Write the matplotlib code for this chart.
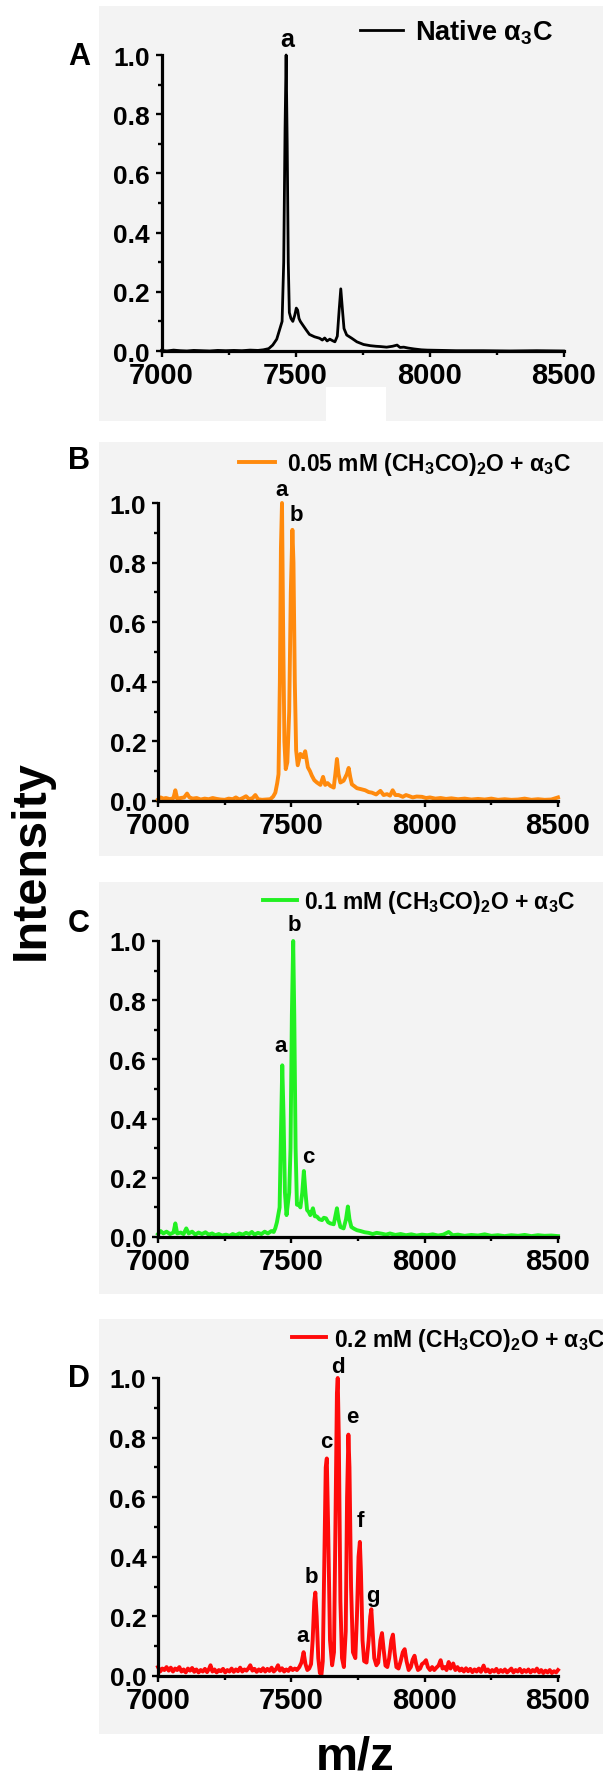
import matplotlib
matplotlib.use("Agg")
import matplotlib.pyplot as plt
import numpy as np
from matplotlib.patches import Rectangle
from matplotlib.ticker import MultipleLocator, FormatStrFormatter

plt.rcParams['font.family'] = ['Liberation Sans', 'DejaVu Sans']
plt.rcParams['font.weight'] = 'bold'
plt.rcParams['mathtext.fontset'] = 'custom'
plt.rcParams['mathtext.rm'] = 'Liberation Sans:bold'
plt.rcParams['mathtext.it'] = 'Liberation Sans:bold'
plt.rcParams['mathtext.bf'] = 'Liberation Sans:bold'
plt.rcParams['mathtext.default'] = 'rm'

# spectra: (m/z, relative intensity)
spec_native = [
    (7000, 0.002), (7020, 0.0), (7045, 0.003), (7070, 0.001), (7095, 0.0), (7120, 0.002),
    (7150, 0.001), (7180, 0.0), (7210, 0.002), (7240, 0.001), (7270, 0.002), (7300, 0.001),
    (7330, 0.003), (7360, 0.002), (7380, 0.004), (7400, 0.008), (7415, 0.02), (7430, 0.04),
    (7440, 0.07), (7450, 0.1), (7456, 0.3), (7461, 0.75), (7465, 1.0), (7469, 0.7),
    (7473, 0.3), (7477, 0.13), (7483, 0.11), (7490, 0.1), (7497, 0.12), (7503, 0.145),
    (7508, 0.138), (7513, 0.11), (7518, 0.1), (7527, 0.088), (7540, 0.071), (7552, 0.056),
    (7571, 0.048), (7590, 0.043), (7600, 0.037), (7609, 0.044), (7618, 0.034), (7628, 0.04),
    (7638, 0.035), (7647, 0.031), (7656, 0.05), (7663, 0.14), (7669, 0.21), (7676, 0.13),
    (7681, 0.076), (7691, 0.054), (7710, 0.043), (7729, 0.031), (7754, 0.022), (7779, 0.018),
    (7800, 0.016), (7817, 0.015), (7840, 0.013), (7862, 0.016), (7879, 0.02), (7890, 0.012),
    (7904, 0.013), (7920, 0.01), (7942, 0.007), (7970, 0.004), (7992, 0.003), (8050, 0.002),
    (8100, 0.001), (8200, 0.001), (8300, 0.0), (8400, 0.001), (8500, 0.0),
]

spec_005 = [
    (7000, 0.005), (7010, 0.012), (7020, 0.008), (7030, 0.01), (7045, 0.006), (7058, 0.01),
    (7065, 0.036), (7072, 0.008), (7085, 0.01), (7098, 0.012), (7109, 0.025), (7118, 0.012),
    (7130, 0.008), (7145, 0.01), (7160, 0.005), (7175, 0.008), (7190, 0.006), (7205, 0.01),
    (7220, 0.007), (7235, 0.005), (7250, 0.004), (7265, 0.008), (7280, 0.006), (7292, 0.012),
    (7305, 0.005), (7318, 0.01), (7330, 0.016), (7342, 0.006), (7355, 0.01), (7365, 0.02),
    (7375, 0.006), (7390, 0.004), (7405, 0.005), (7421, 0.006), (7432, 0.015), (7440, 0.028),
    (7447, 0.06), (7452, 0.09), (7457, 0.4), (7461, 0.85), (7465, 1.0), (7469, 0.6),
    (7474, 0.2), (7479, 0.107), (7485, 0.13), (7492, 0.3), (7498, 0.7), (7504, 0.91),
    (7508, 0.8), (7513, 0.4), (7518, 0.17), (7524, 0.12), (7534, 0.158), (7544, 0.147),
    (7552, 0.167), (7562, 0.113), (7570, 0.1), (7577, 0.085), (7586, 0.07), (7596, 0.062),
    (7609, 0.054), (7619, 0.081), (7627, 0.054), (7636, 0.06), (7646, 0.051), (7659, 0.045),
    (7665, 0.09), (7671, 0.141), (7677, 0.09), (7684, 0.062), (7696, 0.068), (7708, 0.09),
    (7715, 0.111), (7721, 0.08), (7727, 0.056), (7736, 0.05), (7746, 0.043), (7760, 0.04),
    (7777, 0.036), (7790, 0.03), (7802, 0.028), (7818, 0.022), (7834, 0.034), (7846, 0.02),
    (7859, 0.023), (7870, 0.018), (7880, 0.036), (7890, 0.02), (7902, 0.02), (7918, 0.014),
    (7930, 0.02), (7940, 0.017), (7955, 0.012), (7970, 0.015), (7990, 0.014), (8005, 0.01),
    (8020, 0.012), (8040, 0.008), (8060, 0.01), (8080, 0.007), (8100, 0.009), (8125, 0.006),
    (8150, 0.008), (8175, 0.005), (8200, 0.007), (8225, 0.005), (8250, 0.008), (8275, 0.004),
    (8300, 0.006), (8325, 0.004), (8350, 0.005), (8375, 0.008), (8400, 0.004), (8425, 0.006),
    (8450, 0.004), (8475, 0.005), (8500, 0.012),
]

spec_01 = [
    (7000, 0.01), (7010, 0.02), (7020, 0.012), (7032, 0.018), (7045, 0.01), (7058, 0.015),
    (7065, 0.046), (7072, 0.012), (7085, 0.015), (7096, 0.01), (7106, 0.029), (7115, 0.012),
    (7128, 0.018), (7140, 0.008), (7152, 0.015), (7165, 0.01), (7178, 0.016), (7190, 0.008),
    (7203, 0.012), (7215, 0.006), (7228, 0.01), (7240, 0.005), (7255, 0.008), (7268, 0.004),
    (7280, 0.01), (7292, 0.006), (7305, 0.012), (7318, 0.008), (7330, 0.014), (7342, 0.01),
    (7352, 0.017), (7362, 0.008), (7375, 0.014), (7388, 0.01), (7400, 0.018), (7412, 0.012),
    (7425, 0.02), (7434, 0.017), (7440, 0.03), (7446, 0.05), (7452, 0.08), (7456, 0.1),
    (7461, 0.35), (7466, 0.58), (7471, 0.4), (7476, 0.15), (7482, 0.074), (7488, 0.12),
    (7492, 0.15), (7497, 0.3), (7502, 0.75), (7507, 1.0), (7511, 0.75), (7516, 0.3),
    (7521, 0.109), (7528, 0.11), (7534, 0.1), (7541, 0.15), (7547, 0.223), (7553, 0.15),
    (7559, 0.091), (7565, 0.085), (7571, 0.074), (7581, 0.097), (7588, 0.07), (7596, 0.069),
    (7605, 0.06), (7615, 0.057), (7622, 0.065), (7630, 0.063), (7638, 0.05), (7646, 0.046),
    (7659, 0.043), (7665, 0.07), (7671, 0.097), (7677, 0.06), (7684, 0.034), (7696, 0.029),
    (7705, 0.06), (7712, 0.103), (7718, 0.06), (7725, 0.034), (7735, 0.028), (7746, 0.023),
    (7760, 0.02), (7775, 0.016), (7790, 0.014), (7805, 0.01), (7820, 0.014), (7840, 0.011),
    (7855, 0.008), (7870, 0.012), (7890, 0.007), (7910, 0.01), (7930, 0.006), (7950, 0.009),
    (7970, 0.005), (7990, 0.008), (8010, 0.006), (8030, 0.009), (8050, 0.005), (8070, 0.008),
    (8090, 0.017), (8105, 0.006), (8125, 0.008), (8150, 0.004), (8175, 0.007), (8200, 0.005),
    (8225, 0.009), (8250, 0.004), (8275, 0.006), (8300, 0.003), (8325, 0.006), (8350, 0.004),
    (8375, 0.007), (8400, 0.003), (8425, 0.006), (8450, 0.004), (8475, 0.005), (8500, 0.003),
]

spec_02 = [
    (7000, 0.03), (7008, 0.015), (7016, 0.025), (7024, 0.02), (7032, 0.03), (7040, 0.018),
    (7048, 0.028), (7056, 0.015), (7064, 0.025), (7072, 0.02), (7080, 0.03), (7088, 0.015),
    (7096, 0.022), (7104, 0.012), (7112, 0.025), (7120, 0.018), (7128, 0.027), (7136, 0.014),
    (7144, 0.022), (7152, 0.012), (7160, 0.02), (7168, 0.015), (7176, 0.024), (7184, 0.013),
    (7192, 0.025), (7197, 0.036), (7204, 0.015), (7212, 0.022), (7220, 0.012), (7228, 0.02),
    (7236, 0.016), (7244, 0.024), (7252, 0.012), (7260, 0.02), (7268, 0.015), (7276, 0.025),
    (7284, 0.014), (7292, 0.022), (7300, 0.016), (7308, 0.028), (7316, 0.015), (7324, 0.022),
    (7332, 0.018), (7340, 0.027), (7346, 0.036), (7354, 0.018), (7362, 0.024), (7370, 0.014),
    (7378, 0.022), (7386, 0.016), (7394, 0.026), (7402, 0.015), (7410, 0.024), (7418, 0.017),
    (7426, 0.028), (7434, 0.015), (7442, 0.022), (7450, 0.036), (7457, 0.018), (7465, 0.026),
    (7473, 0.015), (7481, 0.022), (7489, 0.017), (7497, 0.028), (7505, 0.02), (7513, 0.025),
    (7521, 0.02), (7530, 0.03), (7538, 0.045), (7546, 0.08), (7553, 0.04), (7560, 0.02),
    (7567, 0.025), (7574, 0.04), (7580, 0.12), (7586, 0.25), (7590, 0.28), (7595, 0.2),
    (7601, 0.06), (7607, 0.01), (7613, 0.005), (7618, 0.05), (7624, 0.4), (7629, 0.7),
    (7633, 0.73), (7638, 0.5), (7645, 0.12), (7653, 0.036), (7660, 0.08), (7666, 0.55),
    (7671, 0.95), (7674, 1.0), (7678, 0.8), (7684, 0.25), (7690, 0.06), (7697, 0.03),
    (7704, 0.15), (7709, 0.6), (7714, 0.81), (7718, 0.7), (7724, 0.3), (7731, 0.08),
    (7740, 0.06), (7746, 0.2), (7752, 0.4), (7757, 0.45), (7761, 0.35), (7767, 0.12),
    (7773, 0.05), (7782, 0.045), (7790, 0.12), (7796, 0.2), (7800, 0.224), (7805, 0.15),
    (7811, 0.06), (7819, 0.036), (7826, 0.045), (7834, 0.12), (7840, 0.144), (7846, 0.09),
    (7853, 0.035), (7860, 0.03), (7867, 0.06), (7875, 0.12), (7881, 0.139), (7887, 0.08),
    (7894, 0.03), (7902, 0.025), (7910, 0.05), (7918, 0.08), (7925, 0.09), (7932, 0.05),
    (7940, 0.02), (7948, 0.03), (7955, 0.055), (7962, 0.068), (7968, 0.04), (7975, 0.02),
    (7983, 0.025), (7990, 0.04), (7998, 0.045), (8005, 0.053), (8012, 0.03), (8020, 0.02),
    (8028, 0.03), (8036, 0.02), (8044, 0.028), (8052, 0.035), (8060, 0.053), (8067, 0.025),
    (8075, 0.03), (8082, 0.02), (8090, 0.047), (8097, 0.025), (8107, 0.042), (8115, 0.02),
    (8123, 0.03), (8131, 0.018), (8139, 0.025), (8147, 0.015), (8155, 0.026), (8163, 0.016),
    (8171, 0.024), (8179, 0.013), (8187, 0.022), (8195, 0.015), (8203, 0.025), (8211, 0.014),
    (8221, 0.035), (8229, 0.015), (8237, 0.022), (8245, 0.012), (8253, 0.02), (8261, 0.015),
    (8269, 0.024), (8277, 0.012), (8285, 0.02), (8293, 0.014), (8301, 0.022), (8309, 0.012),
    (8317, 0.018), (8325, 0.025), (8333, 0.012), (8341, 0.02), (8349, 0.015), (8357, 0.024),
    (8365, 0.012), (8373, 0.02), (8381, 0.014), (8389, 0.022), (8397, 0.012), (8405, 0.02),
    (8413, 0.015), (8421, 0.025), (8429, 0.012), (8437, 0.02), (8445, 0.01), (8453, 0.018),
    (8461, 0.012), (8469, 0.02), (8477, 0.01), (8485, 0.016), (8493, 0.012), (8500, 0.02),
]

# peak letters: (letter, m/z, height of the label's baseline)
peaks_native = [('a', 7470, 1.015)]
peaks_005 = [('a', 7465, 1.01), ('b', 7520, 0.925)]
peaks_01 = [('a', 7461, 0.61), ('b', 7510, 1.02), ('c', 7562, 0.236)]
peaks_02 = [('a', 7542, 0.10), ('b', 7576, 0.30), ('c', 7633, 0.75), ('d', 7674, 1.005),
            ('e', 7730, 0.836), ('f', 7758, 0.487), ('g', 7806, 0.235)]

legend_texts = ['Native α$_3$C',
                '0.05 mM (CH$_3$CO)$_2$O + α$_3$C',
                '0.1 mM (CH$_3$CO)$_2$O + α$_3$C',
                '0.2 mM (CH$_3$CO)$_2$O + α$_3$C']
panel_letters = ['A', 'B', 'C', 'D']
colors = ['black', '#ff8a0d', '#22f022', '#ff0a0a']

W, H = 603, 1781
BG = '#f3f3f3'


def fx(x):
    return x / W


def fy(y):
    return 1 - y / H


fig = plt.figure(figsize=(W / 100, H / 100), dpi=100)
fig.patch.set_facecolor('white')

# grey panel backgrounds (pixel boxes: left, top, right, bottom)
for l, t, r, b in [(99, 7, 603, 422), (99, 443, 603, 857), (99, 883, 603, 1295), (99, 1320, 603, 1735)]:
    fig.add_artist(Rectangle((fx(l), fy(b)), fx(r - l), (b - t) / H, transform=fig.transFigure,
                             facecolor=BG, edgecolor='none', zorder=-10))
fig.add_artist(Rectangle((fx(326), fy(422)), fx(60), 34 / H, transform=fig.transFigure,
                         facecolor='white', edgecolor='none', zorder=-9))

# axes boxes in pixels: left, right, top (y=1), bottom (y=0)
boxes = [(161.5, 563.5, 56, 352), (158, 558, 504, 802), (158, 558, 942, 1238), (158, 558, 1379, 1677)]
spectra = [spec_native, spec_005, spec_01, spec_02]
peaks = [peaks_native, peaks_005, peaks_01, peaks_02]
lws = [2.0, 2.8, 2.8, 2.8]
# legend: line start x, y, handle length, text pad, font size
legends = [(360, 33, 1.6, 0.42, 19.5), (239, 465, 1.55, 0.55, 16.5), (263, 903, 1.5, 0.28, 16.5),
           (292, 1340, 1.5, 0.32, 16.5)]
letter_y = [57, 461, 924, 1379]
peak_fs = [18, 16, 16, 16]

for i in range(4):
    l, r, t, b = boxes[i]
    ax = fig.add_axes([fx(l), fy(b), (r - l) / W, (b - t) / H])
    ax.set_facecolor('none')
    data = np.array(spectra[i])
    line, = ax.plot(data[:, 0], data[:, 1], color=colors[i], lw=lws[i], clip_on=False,
                    solid_joinstyle='round')
    ax.set_xlim(7000, 8500)
    ax.set_ylim(0, 1.0)
    for s in ['top', 'right']:
        ax.spines[s].set_visible(False)
    for s in ['left', 'bottom']:
        ax.spines[s].set_linewidth(2.3)
    ax.xaxis.set_major_locator(MultipleLocator(500))
    ax.xaxis.set_minor_locator(MultipleLocator(250))
    ax.yaxis.set_major_locator(MultipleLocator(0.2))
    ax.yaxis.set_minor_locator(MultipleLocator(0.1))
    ax.yaxis.set_major_formatter(FormatStrFormatter('%.1f'))
    ax.tick_params(which='major', direction='out', length=4.5, width=1.7)
    ax.tick_params(which='minor', direction='out', length=3, width=1.7)
    ax.tick_params(axis='x', which='major', labelsize=21, pad=3)
    ax.tick_params(axis='y', which='major', labelsize=19, pad=4)
    for lab in ax.get_xticklabels() + ax.get_yticklabels():
        lab.set_fontweight('bold')

    for letter, mz, yv in peaks[i]:
        ax.text(mz, yv, letter, ha='center', va='bottom', fontsize=peak_fs[i],
                fontweight='bold', clip_on=False)

    lx, ly, hl, tp, fs = legends[i]
    ax.legend([line], [legend_texts[i]], loc='center left',
              bbox_to_anchor=(fx(lx), fy(ly)), bbox_transform=fig.transFigure,
              frameon=False, handlelength=hl, handletextpad=tp, borderpad=0,
              borderaxespad=0, prop={'size': fs, 'weight': 'bold'})

    fig.text(fx(79), fy(letter_y[i]), panel_letters[i], fontsize=22, fontweight='bold',
             ha='center', va='center')

fig.text(fx(31), fy(860), 'Intensity', rotation=90, fontsize=35, fontweight='bold',
         ha='center', va='center')
fig.text(fx(355), fy(1758), 'm/z', fontsize=34, fontweight='bold', ha='center', va='center')

fig.savefig('out.png', dpi=100, facecolor='white')
